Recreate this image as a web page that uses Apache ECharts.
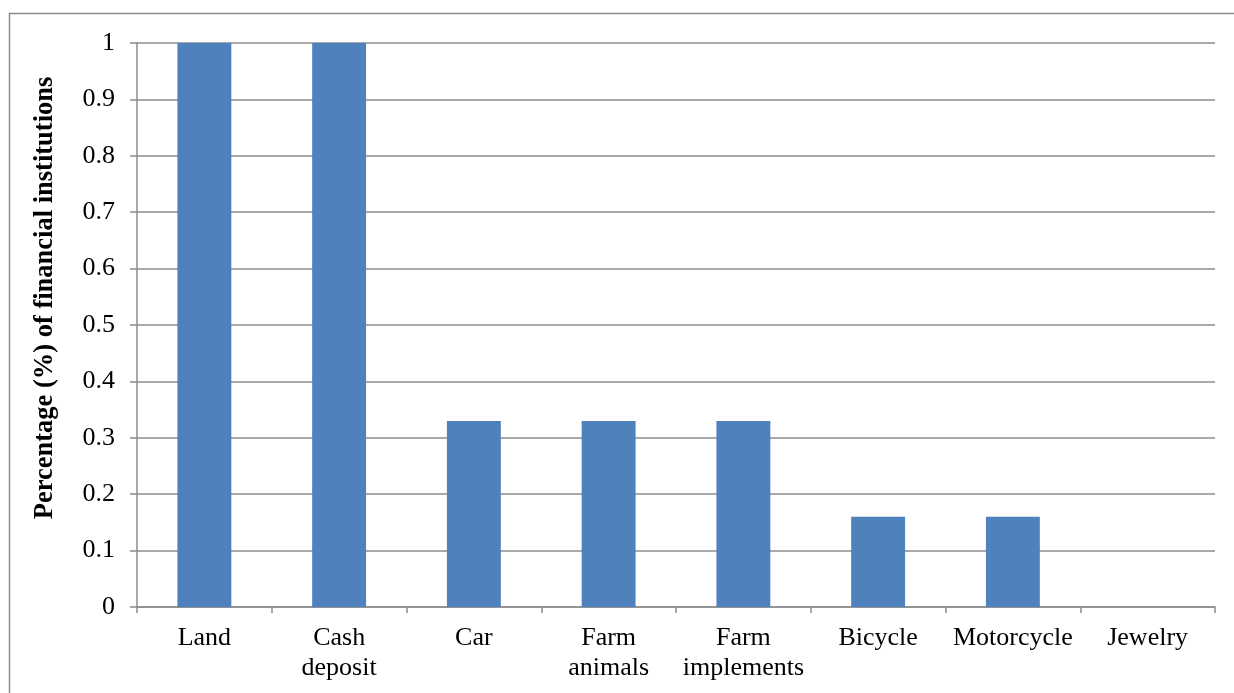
<!DOCTYPE html>
<html>
<head>
<meta charset="utf-8">
<script src="https://cdn.jsdelivr.net/npm/echarts@6/dist/echarts.min.js"></script>
<style>
html,body{margin:0;padding:0;background:#fff;}
#c{width:1234px;height:693px;}
</style>
</head>
<body>
<div id="c"></div>
<script>
var categories = ['Land', 'Cash\ndeposit', 'Car', 'Farm\nanimals', 'Farm\nimplements', 'Bicycle', 'Motorcycle', 'Jewelry'];
var values = [1, 1, 0.33, 0.33, 0.33, 0.16, 0.16, 0];
var yTicks = [0, 0.1, 0.2, 0.3, 0.4, 0.5, 0.6, 0.7, 0.8, 0.9, 1];

var chart = echarts.init(document.getElementById('c'));
var font = '"Liberation Serif", "Times New Roman", serif';
chart.setOption({
  animation: false,
  graphic: [{
    type: 'rect', left: 7, top: 11,
    shape: {width: 1240, height: 700},
    style: {fill: 'none', stroke: '#8c8c8c', lineWidth: 1.5}
  }],
  grid: {left: 137, right: 19, top: 43, bottom: 86, containLabel: false},
  xAxis: {
    type: 'category',
    data: categories,
    axisLine: {lineStyle: {color: '#8c8c8c', width: 1.5}},
    axisTick: {show: true, length: 6, lineStyle: {color: '#8c8c8c', width: 1.5}},
    axisLabel: {color: '#000', fontFamily: font, fontSize: 26, margin: 16, lineHeight: 30, interval: 0}
  },
  yAxis: {
    type: 'value',
    min: 0, max: 1, interval: 0.1,
    name: 'Percentage (%) of financial institutions',
    nameLocation: 'middle',
    nameGap: 78,
    nameTextStyle: {color: '#000', fontFamily: font, fontSize: 26.5, fontWeight: 'bold', padding: [0, 0, 0, 54]},
    axisLine: {show: true, lineStyle: {color: '#8c8c8c', width: 1.5}},
    axisTick: {show: true, length: 7, lineStyle: {color: '#8c8c8c', width: 1.5}},
    axisLabel: {color: '#000', fontFamily: font, fontSize: 26, margin: 22,
      formatter: function (v) { var r = Math.round(v * 10) / 10; return yTicks.indexOf(r) >= 0 ? String(r) : ''; }},
    splitLine: {show: true, lineStyle: {color: '#8c8c8c', width: 1.5}}
  },
  series: [{
    type: 'bar',
    data: values,
    barWidth: '40%',
    itemStyle: {color: '#4f81bd'}
  }]
});
</script>
</body>
</html>
